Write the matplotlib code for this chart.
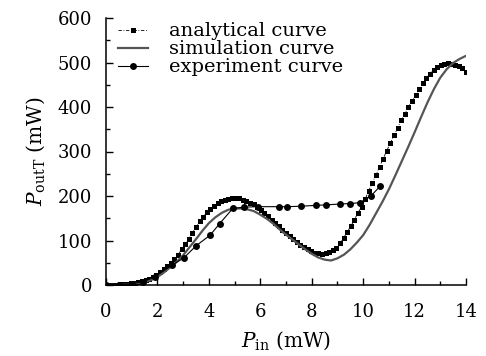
import numpy as np
import matplotlib
matplotlib.use("Agg")
import matplotlib.pyplot as plt
from matplotlib.ticker import MultipleLocator

# analytical curve, sampled every 0.14 mW
ana_x = np.round(np.arange(0, 14.0001, 0.14), 2)
ana_y = [0, 0, 0.5, 1, 1.5, 2, 3, 4, 5.5, 7,
         9, 11.5, 14.5, 18, 23, 29, 35, 42, 50, 59,
         68, 80, 92, 104, 117, 130, 143, 153, 163, 171,
         178, 184, 189, 192, 194, 196, 196, 195, 192, 189,
         185, 181, 175, 168, 161, 154, 147, 139, 132, 124,
         117, 110, 103, 97, 91, 86, 81, 77, 73, 71,
         70, 71, 74, 78, 84, 95, 106, 119, 132, 147,
         162, 176, 193, 212, 230, 248, 266, 284, 302, 319,
         336, 353, 370, 385, 400, 414, 428, 441, 453, 465,
         475, 483, 489, 494, 497, 498, 497, 495, 492, 487,
         478]

# simulation curve, sampled every 0.25 mW
sim_x = np.arange(0, 14.0001, 0.25)
sim_y = [0, 0, 0.5, 1, 2, 4, 7, 11, 18, 28,
         40, 52, 67, 85, 103, 122, 139, 152, 162, 169,
         172, 172, 170, 166, 158, 149, 138, 125, 113, 102,
         91, 80, 70, 62, 57, 55, 60, 68, 80, 95,
         112, 135, 161, 187, 215, 246, 278, 310, 343, 377,
         410, 440, 466, 485, 499, 508, 515]

# experiment curve
exp_x = [0, 0.5, 1.0, 1.45, 1.9, 2.55, 3.03, 3.5, 4.05, 4.42, 4.93, 5.37,
         5.9, 6.73, 7.03, 7.57, 8.17, 8.55, 9.1, 9.47, 9.88, 10.3, 10.66]
exp_y = [0, 1, 3, 7, 19, 44, 61, 88, 112, 138, 172, 175,
         176, 176, 176, 177, 179, 180, 182, 183, 185, 200, 222]

xticks = [0, 2, 4, 6, 8, 10, 12, 14]
yticks = [0, 100, 200, 300, 400, 500, 600]

plt.rcParams['font.family'] = ['DejaVu Serif']
plt.rcParams['mathtext.fontset'] = 'dejavuserif'

fig = plt.figure(figsize=(4.86, 3.56), dpi=100)
ax = fig.add_axes([106/486, 71/356, 360/486, 267/356])

ax.plot(ana_x, ana_y, linestyle=(0, (4, 2, 1, 2)), color='black', lw=0.6,
        marker='s', markersize=3.6, markeredgewidth=0, label='analytical curve')
ax.plot(sim_x, sim_y, color='#555555', lw=1.6, label='simulation curve')
ax.plot(exp_x, exp_y, color='black', lw=0.8, marker='o', markersize=5,
        markeredgewidth=0, label='experiment curve')

ax.set_xlim(0, 14)
ax.set_ylim(0, 600)
ax.set_xticks(xticks)
ax.set_yticks(yticks)
ax.xaxis.set_minor_locator(MultipleLocator(1))
ax.yaxis.set_minor_locator(MultipleLocator(50))
ax.tick_params(which='both', direction='in', labelsize=13, colors='black')
ax.tick_params(which='major', length=5, width=1)
ax.tick_params(which='minor', length=3, width=1)
ax.tick_params(axis='x', pad=13)
ax.tick_params(axis='y', pad=10)
for s in ['top', 'right']:
    ax.spines[s].set_visible(False)
for s in ['left', 'bottom']:
    ax.spines[s].set_linewidth(1.1)

ax.set_xlabel(r'$P_{\rm in}$ (mW)', fontsize=14.5, labelpad=6)
ax.set_ylabel(r'$P_{\rm outT}$ (mW)', fontsize=14.5, labelpad=8)

leg = ax.legend(loc='upper left', bbox_to_anchor=(0.0, 1.027), frameon=False,
                fontsize=14, handlelength=1.55, handletextpad=1.1,
                labelspacing=0.0, borderaxespad=0.2)

fig.savefig('out.png', dpi=100)
